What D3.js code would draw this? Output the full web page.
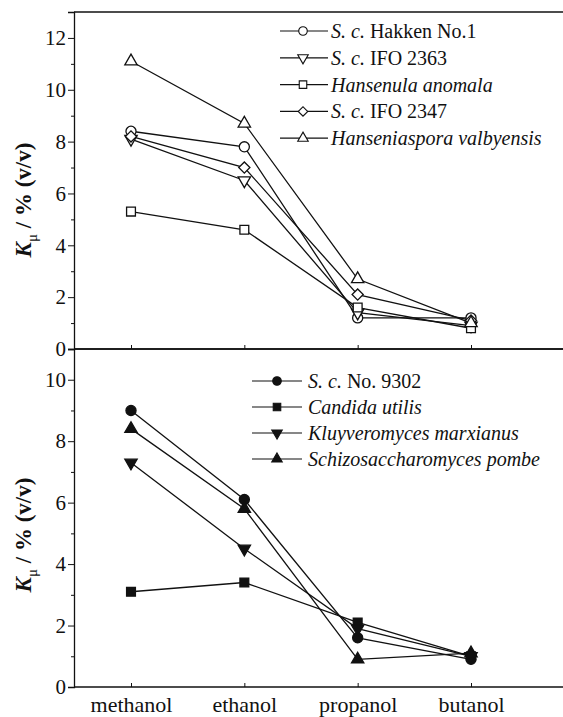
<!DOCTYPE html>
<html>
<head>
<meta charset="utf-8">
<script src="https://cdn.jsdelivr.net/npm/d3@7"></script>
<style>
  html, body { margin: 0; padding: 0; background: #fff; }
  svg { display: block; }
  text { font-family: "Liberation Serif", "Times New Roman", serif; fill: #111; }
</style>
</head>
<body>
<svg id="chart" width="563" height="717"></svg>
<script>
// Alcohols tested
const alcohols = ["methanol", "ethanol", "propanol", "butanol"];

// Upper panel: open symbols
const topNames = ["S. c. Hakken No.1", "S. c. IFO 2363", "Hansenula anomala", "S. c. IFO 2347", "Hanseniaspora valbyensis"];
const hakken1 = [8.4, 7.8, 1.2, 1.2];
const ifo2363 = [8.1, 6.5, 1.4, 0.9];
const hansenula = [5.3, 4.6, 1.6, 0.8];
const ifo2347 = [8.2, 7.0, 2.1, 1.1];
const hanseniaspora = [11.1, 8.7, 2.7, 1.0];

// Lower panel: filled symbols
const bottomNames = ["S. c. No. 9302", "Candida utilis", "Kluyveromyces marxianus", "Schizosaccharomyces pombe"];
const no9302 = [9.0, 6.1, 1.6, 0.9];
const candida = [3.1, 3.4, 2.1, 1.0];
const kluyveromyces = [7.3, 4.5, 1.9, 1.0];
const schizo = [8.4, 5.8, 0.9, 1.1];

// Axis ticks
const topTicks = [0, 2, 4, 6, 8, 10, 12];
const bottomTicks = [0, 2, 4, 6, 8, 10];

const svg = d3.select("#chart");
const left = 74, right = 563;

const x = d3.scalePoint().domain(alcohols).range([131, 471]);

function marker(shape, filled) {
  const base = { circle: [d3.symbolCircle, 80, 0], square: [d3.symbolSquare, 78, 0],
                 diamond: [d3.symbolSquare, 62, 45], up: [d3.symbolTriangle, 66, 0],
                 down: [d3.symbolTriangle, 66, 180] }[shape];
  return { path: d3.symbol().type(base[0]).size(base[1])(), rot: base[2], filled };
}

function panel(cfg) {
  const y = d3.scaleLinear().domain(cfg.domain).range([cfg.bottom, cfg.top]);
  const g = svg.append("g");

  // top border
  g.append("line").attr("x1", left).attr("x2", right).attr("y1", cfg.top).attr("y2", cfg.top)
    .attr("stroke", "#111").attr("stroke-width", 1.3);

  // y axis (major + minor ticks, outward)
  const yAxis = g.append("g").attr("transform", `translate(${left},0)`)
    .call(d3.axisLeft(y).tickValues(cfg.ticks).tickSize(6).tickPadding(2).tickFormat(d3.format("d")));
  yAxis.select(".domain").attr("stroke", "#111").attr("stroke-width", 1.3);
  yAxis.selectAll("text").style("font-size", "21px").style("font-family", "Liberation Serif").attr("fill", "#111");
  yAxis.selectAll(".tick line").attr("stroke", "#111");
  const minor = d3.range(1, cfg.domain[1], 2);
  g.append("g").attr("transform", `translate(${left},0)`)
    .call(d3.axisLeft(y).tickValues(minor).tickSize(3).tickFormat(""))
    .call(s => s.select(".domain").remove())
    .selectAll(".tick line").attr("stroke", "#111");

  // x axis, ticks pointing inward
  const xAxis = g.append("g").attr("transform", `translate(0,${cfg.bottom})`)
    .call(d3.axisBottom(x).tickSize(-4).tickFormat(cfg.xLabels ? null : ""));
  xAxis.select(".domain").remove();
  xAxis.selectAll(".tick line").attr("stroke", "#111");
  if (cfg.xLabels) {
    xAxis.selectAll("text").attr("y", 0).attr("dy", "25px")
      .style("font-size", "22px").style("font-family", "Liberation Serif").attr("fill", "#111");
  }
  g.append("line").attr("x1", left).attr("x2", right).attr("y1", cfg.bottom).attr("y2", cfg.bottom)
    .attr("stroke", "#111").attr("stroke-width", 1.3);

  // y axis title
  const t = g.append("text")
    .attr("transform", `translate(31,${cfg.labelY}) rotate(-90)`)
    .attr("text-anchor", "middle").style("font-size", "23px").style("font-weight", "bold");
  t.append("tspan").style("font-style", "italic").text("K");
  t.append("tspan").attr("dy", 6).style("font-size", "15px").style("font-weight", "normal").text("μ");
  t.append("tspan").attr("dy", -6).text("  / % (v/v)");

  // series lines and markers
  const line = d3.line().x((d, i) => x(alcohols[i])).y(d => y(d));
  cfg.series.forEach(s => {
    g.append("path").datum(s.values).attr("d", line)
      .attr("fill", "none").attr("stroke", "#111").attr("stroke-width", 1.3);
  });
  cfg.series.forEach(s => {
    const m = marker(s.shape, s.filled);
    g.selectAll(null).data(s.values).join("path")
      .attr("d", m.path)
      .attr("transform", (d, i) => `translate(${x(alcohols[i])},${y(d)}) rotate(${m.rot})`)
      .attr("fill", m.filled ? "#111" : "#fff").attr("stroke", "#111").attr("stroke-width", 1.3);
  });

  // legend
  const lg = g.append("g");
  cfg.series.forEach((s, i) => {
    const ly = cfg.legend.y0 + i * cfg.legend.dy;
    const m = marker(s.shape, s.filled);
    lg.append("line").attr("x1", cfg.legend.x1).attr("x2", cfg.legend.x2).attr("y1", ly).attr("y2", ly)
      .attr("stroke", "#111").attr("stroke-width", 1.2);
    lg.append("path").attr("d", m.path)
      .attr("transform", `translate(${cfg.legend.xm},${ly}) rotate(${m.rot}) scale(0.85)`)
      .attr("fill", m.filled ? "#111" : "#fff").attr("stroke", "#111").attr("stroke-width", 1.3);
    const tx = lg.append("text").attr("x", cfg.legend.xt).attr("y", ly).attr("dy", "0.35em")
      .style("font-size", "20px");
    const name = s.name;
    if (name.startsWith("S. c.")) {
      tx.append("tspan").style("font-style", "italic").text("S. c.");
      tx.append("tspan").text(name.slice(5));
    } else {
      tx.append("tspan").style("font-style", "italic").text(name);
    }
  });
}

panel({
  top: 12, bottom: 349, domain: [0, 13], ticks: topTicks, labelY: 200, xLabels: false,
  series: [
    { name: topNames[0], values: hakken1, shape: "circle", filled: false },
    { name: topNames[1], values: ifo2363, shape: "down", filled: false },
    { name: topNames[2], values: hansenula, shape: "square", filled: false },
    { name: topNames[3], values: ifo2347, shape: "diamond", filled: false },
    { name: topNames[4], values: hanseniaspora, shape: "up", filled: false }
  ],
  legend: { x1: 280, x2: 328, xm: 303, xt: 331, y0: 31, dy: 26.8 }
});

panel({
  top: 349, bottom: 687, domain: [0, 11], ticks: bottomTicks, labelY: 535, xLabels: true,
  series: [
    { name: bottomNames[0], values: no9302, shape: "circle", filled: true },
    { name: bottomNames[1], values: candida, shape: "square", filled: true },
    { name: bottomNames[2], values: kluyveromyces, shape: "down", filled: true },
    { name: bottomNames[3], values: schizo, shape: "up", filled: true }
  ],
  legend: { x1: 252, x2: 302, xm: 277, xt: 308, y0: 381, dy: 26 }
});
</script>
</body>
</html>
